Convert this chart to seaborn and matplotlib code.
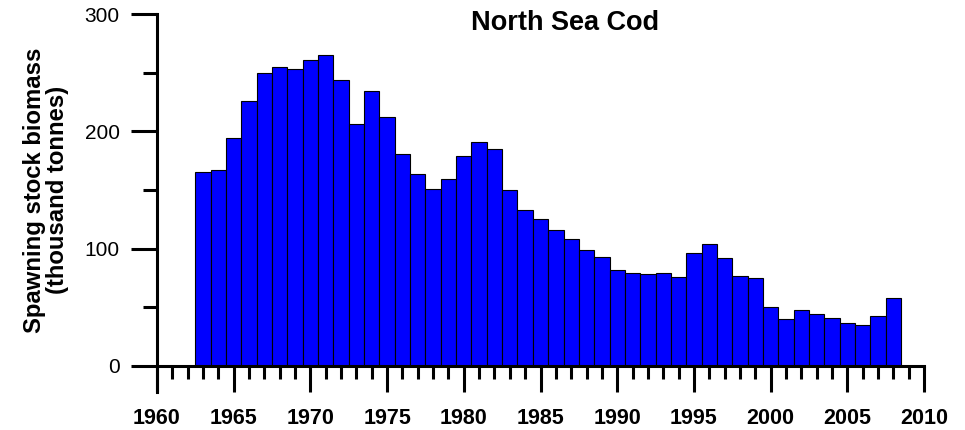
import numpy as np
import pandas as pd
import matplotlib
matplotlib.use("Agg")
import matplotlib.pyplot as plt
from matplotlib.ticker import MultipleLocator
import seaborn as sns

years = list(range(1960, 2010))
ssb = [0, 0, 0, 165, 167, 194, 226, 250, 255, 253,
       261, 265, 244, 206, 234, 212, 181, 164, 151, 159,
       179, 191, 185, 150, 133, 125, 116, 108, 99, 93,
       82, 79, 78, 79, 76, 96, 104, 92, 77, 75,
       50, 40, 48, 44, 41, 37, 35, 43, 58, 0]

df = pd.DataFrame({"year": years, "ssb": ssb})

sns.set_style("ticks", {"axes.edgecolor": "black", "text.color": "black",
                        "xtick.color": "black", "ytick.color": "black",
                        "axes.labelcolor": "black"})
plt.rcParams['font.family'] = ['Liberation Sans', 'DejaVu Sans']

fig = plt.figure(figsize=(9.65, 4.3), dpi=100)
ax = fig.add_axes([157 / 965, 1 - 392 / 430, 767 / 965, 378 / 430])

sns.barplot(data=df, x="year", y="ssb", native_scale=True, width=1.0,
            color="#0000ff", saturation=1, edgecolor="black", linewidth=0.8, ax=ax)

ax.set_xlim(1960, 2010)
ax.set_ylim(-22.2, 300)
ax.spines['bottom'].set_position(('data', 0))
ax.spines['top'].set_visible(False)
ax.spines['right'].set_visible(False)
for s in ['left', 'bottom']:
    ax.spines[s].set_linewidth(2.2)
    ax.spines[s].set_color('black')

ax.set_xticks(range(1960, 2011, 5))
ax.xaxis.set_minor_locator(MultipleLocator(1))
ax.set_yticks([0, 100, 200, 300])
ax.yaxis.set_minor_locator(MultipleLocator(50))
ax.tick_params(axis='both', which='both', direction='out', width=2.2,
               color='black', labelcolor='black')
ax.tick_params(axis='x', which='major', length=19, pad=11, labelsize=15.5)
ax.tick_params(axis='x', which='minor', length=9)
ax.tick_params(axis='y', which='major', length=19, pad=8, labelsize=15)
ax.tick_params(axis='y', which='minor', length=10)
for lab in ax.get_xticklabels():
    lab.set_fontweight('bold')

ax.set_xlabel("")
ax.set_ylabel("")
fig.text(46 / 965, 1 - 190 / 430, "Spawning stock biomass\n(thousand tonnes)",
         rotation=90, ha='center', va='center', multialignment='center',
         fontsize=17.2, fontweight='bold', linespacing=0.95, color='black')
fig.text(565 / 965, 1 - 23 / 430, "North Sea Cod", ha='center', va='center',
         fontsize=19.5, fontweight='bold', color='black')

fig.savefig("out.png", dpi=100)
